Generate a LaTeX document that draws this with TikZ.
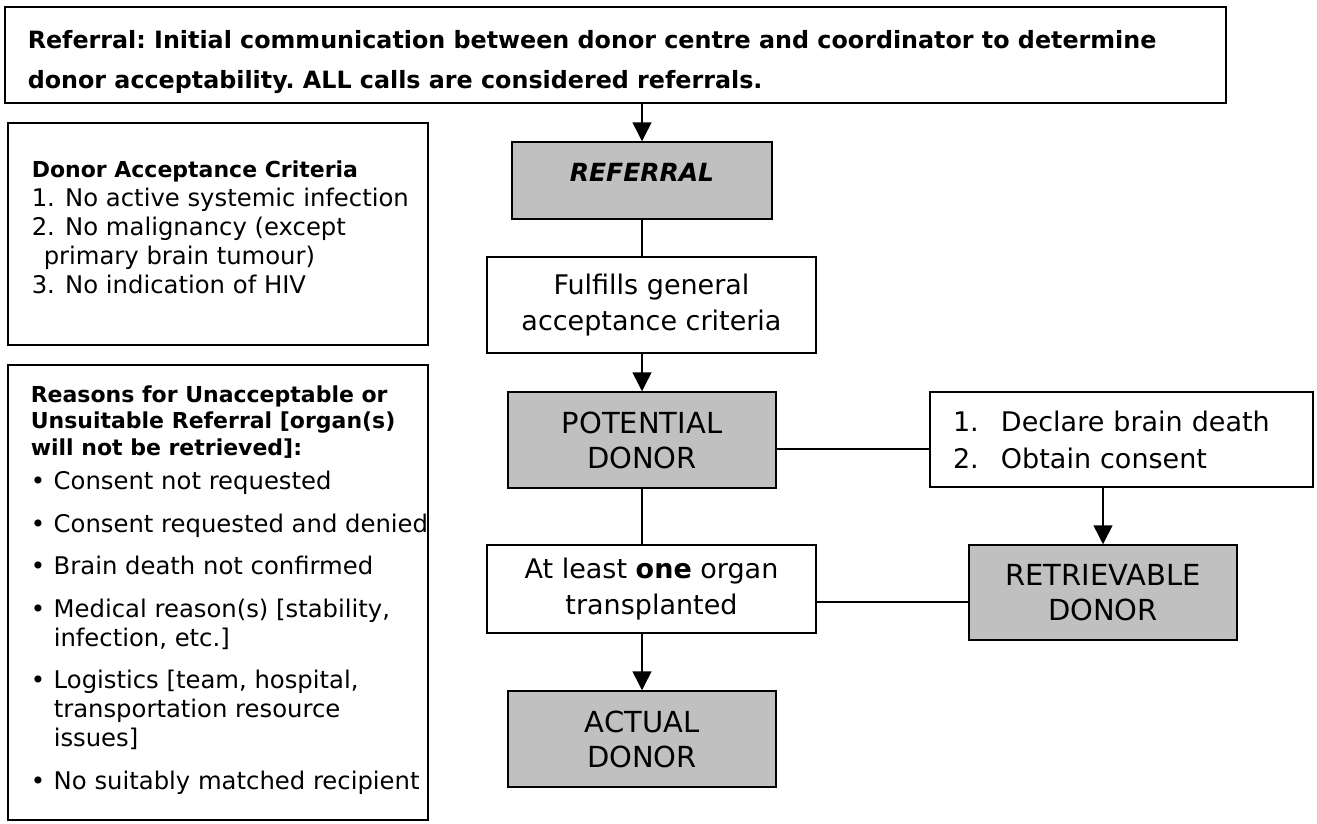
\documentclass[tikz,border=0pt]{standalone}
\usepackage{fontspec}
\setmainfont{DejaVu Sans}
\usepackage{xcolor}
\usetikzlibrary{
	arrows.meta,
	positioning
}
\definecolor{stagegrey}{HTML}{C0C0C0}

\begin{document}
\begin{tikzpicture}[x=1pt,y=-1pt,>={Triangle[length=19pt,width=19pt]},line width=1.5pt,
	stage/.style={draw,fill=stagegrey,minimum width=268pt,minimum height=96pt,inner sep=0pt,align=center,font=\fontsize{29}{35}\selectfont},
	check/.style={draw,fill=white,minimum width=329pt,inner sep=0pt,align=center,font=\fontsize{27}{36}\selectfont},
	panel/.style={draw,inner sep=0pt},
	paneltext/.style={anchor=north west,inner sep=0pt,align=left,font=\fontsize{24.3}{29}\selectfont}]
		
		\useasboundingbox (0,0) rectangle (1317,823);
		
		% Referral note
		\node[panel,minimum width=1221pt,minimum height=96pt] (note) at (615.5,55){};
		\node[paneltext,font=\bfseries\frenchspacing\fontsize{23.8}{40}\selectfont] (notetext) at (27,30)
		{Referral: Initial communication between donor centre and coordinator to determine\\
			donor acceptability. ALL calls are considered referrals.};
		
		% Side panels
		\node[panel,minimum width=420pt,minimum height=222pt] (crit) at (218,234){};
		\node[paneltext] (crittext) at (31,160)
		{{\bfseries\fontsize{22}{29}\selectfont Donor Acceptance Criteria}\\
			1. No active systemic infection\\
			2. No malignancy (except\\
			\hspace*{12pt}primary brain tumour)\\
			3. No indication of HIV};
		
		\node[panel,minimum width=420pt,minimum height=455pt] (unfit) at (218,592.5){};
		\node[paneltext] (unfittext) at (30,385)
		{{\bfseries\fontsize{22}{29}\selectfont Reasons for Unacceptable or}\\[-2.5pt]
			{\bfseries\fontsize{22}{29}\selectfont Unsuitable Referral [organ(s)}\\[-2.5pt]
			{\bfseries\fontsize{22}{29}\selectfont will not be retrieved]:}\\[5pt]
			\makebox[23pt][l]{\textbullet}Consent not requested\\[13.6pt]
			\makebox[23pt][l]{\textbullet}Consent requested and denied\\[13.6pt]
			\makebox[23pt][l]{\textbullet}Brain death not confirmed\\[13.6pt]
			\makebox[23pt][l]{\textbullet}Medical reason(s) [stability,\\
			\hspace*{23pt}infection, etc.]\\[13.6pt]
			\makebox[23pt][l]{\textbullet}Logistics [team, hospital,\\
			\hspace*{23pt}transportation resource\\
			\hspace*{23pt}issues]\\[13.6pt]
			\makebox[23pt][l]{\textbullet}No suitably matched recipient};
		
		% Donor stages
		\node[stage,minimum width=260pt,minimum height=77pt,text depth=17pt,font=\bfseries\itshape\fontsize{25}{35}\selectfont] (ref) at (642,180.5){REFERRAL};
		\node[check,minimum height=96pt] (fulfil) at (651.5,305){Fulfills general\\acceptance criteria};
		\node[stage] (pot) at (642,440){POTENTIAL\\DONOR};
		\node[draw,fill=white,minimum width=383pt,minimum height=95pt,text width=337pt,inner xsep=23pt,inner ysep=0pt,align=left,font=\fontsize{27}{37}\selectfont] (tasks) at (1121.5,439.5)
		{\makebox[48pt][l]{1.}Declare brain death\\\makebox[48pt][l]{2.}Obtain consent};
		\node[stage,minimum height=95pt] (retr) at (1103,592.5){RETRIEVABLE\\DONOR};
		\node[check,minimum height=88pt] (organ) at (651.5,589){At least \textbf{one} organ\\transplanted};
		\node[stage] (actual) at (642,739){ACTUAL\\DONOR};
		
		\draw[->] (note.south -| pot) -- (ref.north);
		\draw (ref.south) -- (ref.south |- fulfil.north);
		\draw[->] (fulfil.south -| pot) -- (pot.north);
		\draw ([yshift=-9pt]pot.east) -- ([yshift=-9pt]pot.east -| tasks.west);
		\draw[->] (tasks.south -| retr) -- (retr.north);
		\draw (pot.south) -- (pot.south |- organ.north);
		\draw ([yshift=-13pt]organ.east) -- ([yshift=-13pt]organ.east -| retr.west);
		\draw[->] (organ.south -| actual) -- (actual.north);
		
	\end{tikzpicture}
\end{document}
